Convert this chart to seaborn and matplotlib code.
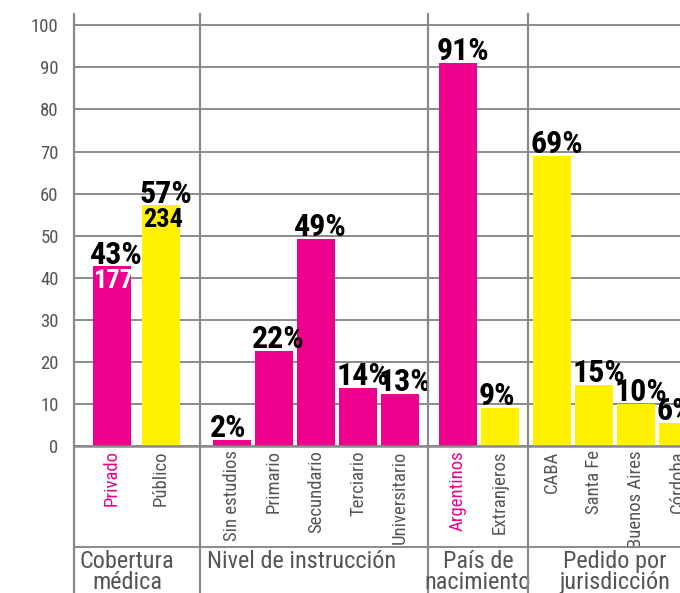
import matplotlib
matplotlib.use("Agg")
import matplotlib.pyplot as plt
import seaborn as sns

# Datos

grupos = ["Cobertura\nmédica", "Nivel de instrucción", "País de\nnacimiento", "Pedido por\njurisdicción"]

cobertura_cat = ["Privado", "Público"]
cobertura_val = [42.7, 57.2]
cobertura_pct = ["43%", "57%"]
cobertura_n = ["177", "234"]

nivel_cat = ["Sin estudios", "Primario", "Secundario", "Terciario", "Universitario"]
nivel_val = [1.5, 22.6, 49.2, 13.9, 12.3]
nivel_pct = ["2%", "22%", "49%", "14%", "13%"]

pais_cat = ["Argentinos", "Extranjeros"]
pais_val = [91.0, 9.0]
pais_pct = ["91%", "9%"]

pedido_cat = ["CABA", "Santa Fe", "Buenos Aires", "Córdoba"]
pedido_val = [68.9, 14.5, 10.0, 5.5]
pedido_pct = ["69%", "15%", "10%", "6%"]

# Estilo

MAGENTA = "#EC008C"
AMARILLO = "#FFF100"
GRIS = "#8a8a8a"
TEXTO = "#555555"

sns.set_style("white")
plt.rcParams["font.family"] = ["Roboto Condensed", "DejaVu Sans"]

colores = [
    [MAGENTA, AMARILLO],
    [MAGENTA] * 5,
    [MAGENTA, AMARILLO],
    [AMARILLO] * 4,
]
color_etiqueta = [
    [MAGENTA, TEXTO],
    [TEXTO] * 5,
    [MAGENTA, TEXTO],
    [TEXTO] * 4,
]

# layout en pixeles: ancho de cada seccion, paso entre barras, margen izq.
anchos = [126, 228, 100, 152]
pasos = [49, 42, 42, 42]
margen = [38, 32, 30, 24]
ancho_barra = 38
centro_titulo = [0.42, 0.447, 0.5, 0.572]

datos = [
    (cobertura_cat, cobertura_val, cobertura_pct),
    (nivel_cat, nivel_val, nivel_pct),
    (pais_cat, pais_val, pais_pct),
    (pedido_cat, pedido_val, pedido_pct),
]

fig = plt.figure(figsize=(6.8, 5.93), dpi=100)
gs = fig.add_gridspec(1, 4, width_ratios=anchos, wspace=0,
                      left=74 / 680, right=1.0,
                      bottom=1 - 446 / 593, top=1 - 14 / 593)

ejes = []
for i, (cats, vals, pcts) in enumerate(datos):
    ax = fig.add_subplot(gs[0, i], sharey=ejes[0] if ejes else None)
    ejes.append(ax)
    sns.barplot(x=cats, y=vals, order=cats, hue=cats, palette=colores[i],
                legend=False, width=ancho_barra / pasos[i], saturation=1,
                linewidth=0, edgecolor="none", ax=ax)
    span = anchos[i] / pasos[i]
    x0 = -margen[i] / pasos[i]
    ax.set_xlim(x0, x0 + span)
    ax.set_ylim(0, 102.7)
    ax.set_yticks(range(0, 101, 10))
    ax.set_axisbelow(True)
    ax.yaxis.grid(True, color=GRIS, lw=1.4)
    ax.xaxis.grid(False)
    ax.set_xlabel("")
    ax.set_ylabel("")
    for lado in ["top", "right"]:
        ax.spines[lado].set_visible(False)
    ax.spines["left"].set_color(GRIS)
    ax.spines["left"].set_linewidth(1.6)
    ax.spines["bottom"].set_color(GRIS)
    ax.spines["bottom"].set_linewidth(1.8)

    ax.tick_params(axis="x", length=0, pad=3, labelrotation=90,
                   labelsize=13.5)
    for lbl, c in zip(ax.get_xticklabels(), color_etiqueta[i]):
        lbl.set_color(c)
    if i == 0:
        ax.tick_params(axis="y", length=8, width=1.1, color=GRIS, pad=3,
                       labelsize=13.5, labelcolor=TEXTO)
    else:
        ax.tick_params(axis="y", length=0, labelleft=False)

    # porcentajes sobre las barras
    w = ancho_barra / pasos[i]
    for j, (v, p) in enumerate(zip(vals, pcts)):
        ax.annotate(p, (j - w / 2, v), xytext=(-2, 2),
                    textcoords="offset points", ha="left", va="baseline",
                    fontsize=23, fontweight="bold", color="black",
                    annotation_clip=False)

    # lineas divisorias hacia abajo
    ax.plot([0, 0], [-0.35, 0], transform=ax.transAxes, clip_on=False,
            color=GRIS, lw=1.6)
    ax.plot([0, 1], [-0.233, -0.233], transform=ax.transAxes,
            clip_on=False, color=GRIS, lw=1.4)
    ax.text(centro_titulo[i], -0.24, grupos[i], transform=ax.transAxes,
            ha="center", va="top", fontsize=17.5, color=TEXTO,
            linespacing=0.92)

# cantidades dentro de las barras de cobertura
w = ancho_barra / pasos[0]
for j, (v, n) in enumerate(zip(cobertura_val, cobertura_n)):
    ejes[0].annotate(n, (j - w / 2, v), xytext=(1, -2),
                     textcoords="offset points", ha="left", va="top",
                     fontsize=19, fontweight="bold",
                     color="white" if j == 0 else "black")

fig.savefig("out.png", dpi=100)
